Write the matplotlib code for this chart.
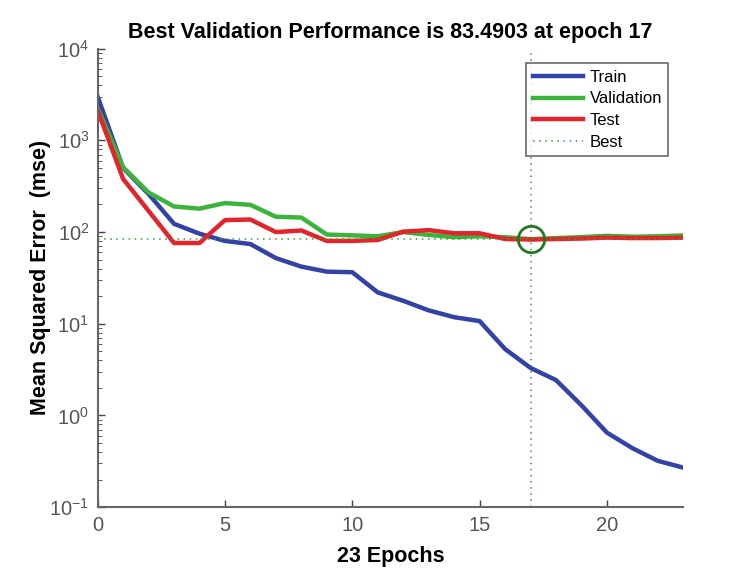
import numpy as np
import matplotlib.pyplot as plt
from matplotlib.ticker import LogLocator, NullFormatter

plt.rcParams["font.family"] = ["Liberation Sans", "DejaVu Sans"]
plt.rcParams["mathtext.fontset"] = "custom"
plt.rcParams["mathtext.rm"] = "Liberation Sans"
plt.rcParams["mathtext.it"] = "Liberation Sans:italic"
plt.rcParams["mathtext.bf"] = "Liberation Sans:bold"
plt.rcParams["axes.unicode_minus"] = False

# values (per epoch, 0..23)
epochs = list(range(24))
train = [3000, 500, 260, 123, 96, 80, 74, 52, 42, 37, 36.5, 22, 17.8, 14,
         11.8, 10.7, 5.3, 3.3, 2.43, 1.29, 0.65, 0.44, 0.32, 0.27]
valid = [2240, 510, 270, 190, 180, 207, 198, 147, 144, 94, 92, 90, 100, 93,
         88, 90, 88, 83.4903, 86, 88, 91, 89, 90, 92]
test = [2130, 380, 170, 76, 76, 135, 137, 100, 104, 80, 80, 82, 101, 105,
        97, 97, 84, 83, 84, 85, 87, 86, 86, 87]
best_epoch = 17
best_perf = 83.4903

fig = plt.figure(figsize=(7.34, 5.79), dpi=100)
ax = fig.add_axes([0.133, 0.124, 0.798, 0.792])

ax.plot(epochs, train, color="#3242a6", linewidth=3.2, label="Train")
ax.plot(epochs, valid, color="#3cb43c", linewidth=3.2, label="Validation")
ax.plot(epochs, test, color="#e3242b", linewidth=3.2, label="Test")
ax.plot([0, 23], [best_perf, best_perf], color="#3a9a3a", linewidth=1.1,
        linestyle=(0, (1, 3)), label="Best")
ax.plot([best_epoch, best_epoch], [0.1, 1e4], color="#3a9a3a", linewidth=1.1,
        linestyle=(0, (1, 3)))
ax.plot(best_epoch, best_perf, "o", markersize=19, markerfacecolor="none",
        markeredgecolor="#1e7a1e", markeredgewidth=2)

ax.set_yscale("log")
ax.set_xlim(0, 23)
ax.set_ylim(0.1, 1e4)
ax.set_xticks([0, 5, 10, 15, 20])
ax.yaxis.set_major_locator(LogLocator(base=10, numticks=10))
ax.yaxis.set_minor_locator(LogLocator(base=10, subs=np.arange(2, 10), numticks=20))
ax.yaxis.set_minor_formatter(NullFormatter())

for side in ("top", "right"):
    ax.spines[side].set_visible(False)
for side in ("left", "bottom"):
    ax.spines[side].set_color("#666666")
    ax.spines[side].set_linewidth(1.5)
ax.tick_params(direction="in", colors="#444444", labelsize=14.5, width=1,
               length=5, pad=6)
ax.tick_params(which="minor", direction="in", length=3, colors="#444444")
for lab in ax.get_xticklabels() + ax.get_yticklabels():
    lab.set_color("#555555")

ax.set_title("Best Validation Performance is 83.4903 at epoch 17",
             fontsize=15.5, fontweight="bold", pad=8)
ax.set_xlabel("23 Epochs", fontsize=15.5, fontweight="bold", labelpad=8)
ax.set_ylabel("Mean Squared Error  (mse)", fontsize=15.5, fontweight="bold")
ax.yaxis.set_label_coords(-0.08, 0.5)

leg = ax.legend(loc="upper right", bbox_to_anchor=(0.98, 0.975),
                fontsize=12, frameon=True, fancybox=False,
                handlelength=3.0, handletextpad=0.4, borderpad=0.38,
                labelspacing=0.4, borderaxespad=0.2)
leg.get_frame().set_edgecolor("#444444")
leg.get_frame().set_linewidth(1.2)

fig.savefig("out.png", dpi=100)
